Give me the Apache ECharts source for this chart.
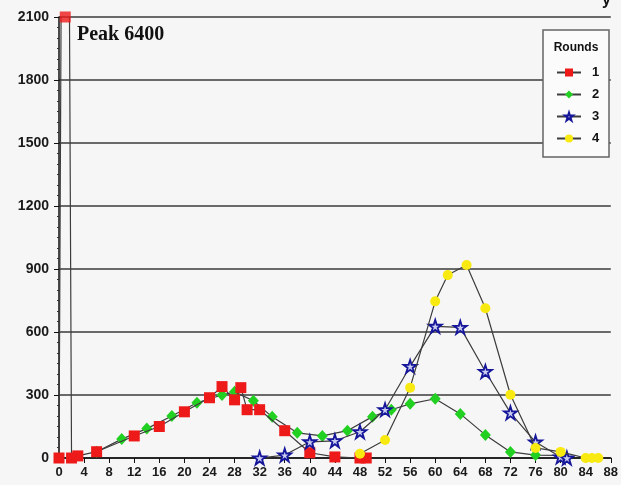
<!DOCTYPE html>
<html>
<head>
<meta charset="utf-8">
<script src="https://cdn.jsdelivr.net/npm/echarts@6/dist/echarts.min.js"></script>
<style>
  html, body { margin: 0; padding: 0; background: #f6f6f6; }
  #chart { width: 621px; height: 485px; }
</style>
</head>
<body>
<div id="chart"></div>
<script>
// Each round: [size, count] pairs
const round1 = [[0, 0], [1, 6400], [2, 0], [3, 10], [6, 30], [12, 105], [16, 150], [20, 220],
  [24, 287], [26, 340], [28, 277], [29, 335], [30, 230], [32, 230], [36, 130], [40, 25],
  [44, 5], [48, 0], [49, 0]];
const round2 = [[6, 30], [10, 90], [14, 140], [18, 200], [22, 263], [26, 300], [28, 315],
  [31, 273], [34, 196], [38, 120], [42, 105], [46, 130], [50, 197], [53, 230], [56, 258],
  [60, 282], [64, 210], [68, 110], [72, 29], [76, 14], [80, 12]];
const round3 = [[32, 0], [36, 14], [40, 77], [44, 82], [48, 125], [52, 230], [56, 436],
  [60, 627], [64, 622], [68, 412], [72, 215], [76, 76], [80, 5], [81, 0]];
const round4 = [[48, 20], [52, 86], [56, 335], [60, 746], [62, 871], [65, 919], [68, 713],
  [72, 301], [76, 48], [80, 29], [84, 0], [85, 0], [86, 0]];

const roundNames = ['1', '2', '3', '4'];
const xTicks = { min: 0, max: 88, step: 4 };
const yTicks = { min: 0, max: 2100, step: 300 };
const peakLabel = 'Peak 6400';

const starPath = 'path://M50,0 L61.8,35.4 L100,35.4 L69.1,57.3 L80.9,93.1 L50,71.2 L19.1,93.1 L30.9,57.3 L0,35.4 L38.2,35.4 Z';

const lineStyle = { color: '#3c3c3c', width: 1.2 };

// Points beyond the top of the value axis are pinned to the top edge
const overflow = round1.filter(p => p[1] > yTicks.max).map(p => [p[0], yTicks.max]);

const chart = echarts.init(document.getElementById('chart'), null, { renderer: 'canvas' });

chart.setOption({
  backgroundColor: '#f6f6f6',
  animation: false,
  grid: { left: 59, right: 9, top: 17, bottom: 27 },
  xAxis: {
    type: 'value',
    min: xTicks.min, max: xTicks.max, interval: xTicks.step,
    axisLine: { show: true, lineStyle: { color: '#111', width: 1.5 } },
    axisTick: { show: true, length: 5, lineStyle: { color: '#111' } },
    splitLine: { show: false },
    axisLabel: { color: '#1a1a1a', fontFamily: 'Liberation Sans', fontSize: 13, fontWeight: 'bold', margin: 8,
      formatter: v => String(v) }
  },
  yAxis: {
    type: 'value',
    min: yTicks.min, max: yTicks.max, interval: yTicks.step,
    axisLine: { show: true, lineStyle: { color: '#111', width: 1.5 } },
    axisTick: { show: true, length: 5, lineStyle: { color: '#111' } },
    minorTick: { show: true, splitNumber: 6, length: 2, lineStyle: { color: '#333' } },
    splitLine: { show: true, lineStyle: { color: '#3a3a3a', width: 1.5 } },
    axisLabel: { color: '#1a1a1a', fontFamily: 'Liberation Sans', fontSize: 14, fontWeight: 'bold', margin: 10,
      formatter: v => String(v) }
  },
  legend: {
    data: roundNames,
    orient: 'vertical',
    left: 551, top: 61,
    itemWidth: 24, itemHeight: 10, itemGap: 9,
    z: 6,
    textStyle: { color: '#111', fontFamily: 'Liberation Sans', fontSize: 13, fontWeight: 'bold', padding: [0, 0, 0, 6] }
  },
  graphic: [
    { type: 'rect', z: 3, shape: { x: 543, y: 30, width: 66, height: 127 },
      style: { fill: '#fbfbfb', stroke: '#666', lineWidth: 1.5 } },
    { type: 'text', z: 7, x: 576, y: 48,
      style: { text: 'Rounds', fill: '#111', font: 'bold 12px "Liberation Sans"', align: 'center', verticalAlign: 'middle' } },
    { type: 'text', z: 7, x: 77, y: 35,
      style: { text: peakLabel, fill: '#111', font: 'bold 20px "Liberation Serif"', align: 'left', verticalAlign: 'middle' } },
    { type: 'text', z: 7, x: 602, y: -7,
      style: { text: 'y', fill: '#111', font: 'bold 16px "Liberation Sans"', align: 'left', verticalAlign: 'top' } }
  ],
  series: [
    { name: roundNames[0], type: 'line', data: round1, clip: true,
      symbol: 'rect', symbolSize: 11, lineStyle: lineStyle,
      itemStyle: { color: '#ee1a1a' }, z: 4 },
    { name: roundNames[1], type: 'line', data: round2, clip: true,
      symbol: 'diamond', symbolSize: [11, 12], lineStyle: lineStyle,
      itemStyle: { color: '#22d022' }, z: 3 },
    { name: roundNames[2], type: 'line', data: round3, clip: true,
      symbol: starPath, symbolSize: 13, lineStyle: lineStyle,
      itemStyle: { color: '#c8ccf0', borderColor: '#16169a', borderWidth: 1.8 }, z: 4 },
    { name: roundNames[3], type: 'line', data: round4, clip: true,
      symbol: 'circle', symbolSize: 10, lineStyle: lineStyle,
      itemStyle: { color: '#f8ea10' }, z: 5 },
    { name: 'overflow', type: 'scatter', data: overflow, clip: false,
      symbol: 'rect', symbolSize: 11, itemStyle: { color: '#ee1a1a' }, z: 6 }
  ]
});
</script>
</body>
</html>
